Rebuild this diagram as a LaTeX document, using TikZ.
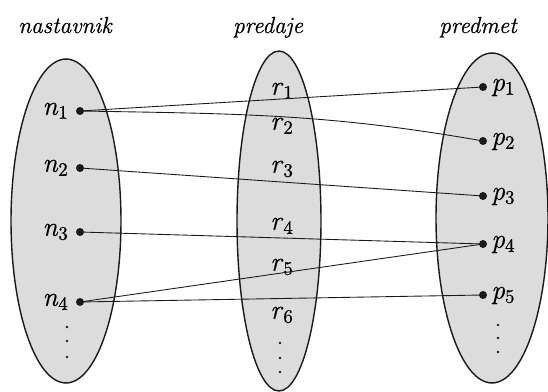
\documentclass[tikz,border=0pt]{standalone}
\usepackage{fontspec}
\setmainfont{Latin Modern Roman}[FakeBold=0.6, ItalicFeatures={FakeBold=0.6}]
\usetikzlibrary{shapes.geometric,backgrounds}
\newcommand{\ilab}[2]{\textit{#1}\textsubscript{#2}}
\definecolor{sfill}{HTML}{DCDCDC}
\definecolor{sink}{HTML}{1A1A1A}
\tikzset{
  sset/.style={
    ellipse, draw=sink, line width=0.8pt, fill=sfill, inner sep=0pt},
  sdot/.style={circle, fill=sink, inner sep=0pt, minimum size=0.16cm},
  stick/.style={circle, fill=sink, inner sep=0pt, minimum size=0.055cm},
  slink/.style={draw=sink, line width=0.5pt},
  shead/.style={font=\fontsize{13.2}{16}\selectfont\itshape, anchor=base},
  slab/.style={font=\fontsize{15.5}{18}\selectfont, inner sep=0pt},
}
\begin{document}
\begin{tikzpicture}[x=0.02cm,y=0.02cm]
\useasboundingbox (0,0) rectangle (548,392);

\node[shead] (tn) at (65,359) {nastavnik};
\node[shead] (tr) at (268,359) {predaje};
\node[shead] (tp) at (478,359) {predmet};

\begin{pgfonlayer}{background}
  \node[sset, minimum width=2.2cm,  minimum height=6.48cm] (nast)  at (66,171) {};
  \node[sset, minimum width=1.68cm, minimum height=6.8cm]  (pred)  at (279,171) {};
  \node[sset, minimum width=2.24cm, minimum height=6.6cm]  (predm) at (492,174) {};
\end{pgfonlayer}

% nastavnik
\foreach \i/\y in {1/281, 2/224, 3/160, 4/90} {
  \node[sdot] (n\i) at (80,\y) {};
  \node[slab, anchor=mid east] (ln\i) at (69,\y) {\ilab{n}{\i}};
}
% predaje
\foreach \i/\y in {1/301, 2/266, 3/223, 4/166, 5/125, 6/77}
  \node[slab, anchor=mid] (r\i) at (282,\y) {\ilab{r}{\i}};
% predmet
\foreach \i/\y in {1/305, 2/251, 3/196, 4/148, 5/97} {
  \node[sdot] (p\i) at (483,\y) {};
  \node[slab, anchor=mid west] (lp\i) at (491,\y) {\ilab{p}{\i}};
}

\foreach \x/\a/\b/\c/\s in {67/65/51/35/n, 280/49/34/20/r, 498/67/54/40/p} {
  \node[stick] (\s d1) at (\x,\a) {};
  \node[stick] (\s d2) at (\x,\b) {};
  \node[stick] (\s d3) at (\x,\c) {};
}

\foreach \a/\b in {n1/p1, n2/p3, n3/p4, n4/p4, n4/p5}
  \draw[slink] (\a.center) -- (\b.center);
\draw[slink] (n1.center) to[out=-1,in=170] (p2.center);

\end{tikzpicture}
\end{document}
